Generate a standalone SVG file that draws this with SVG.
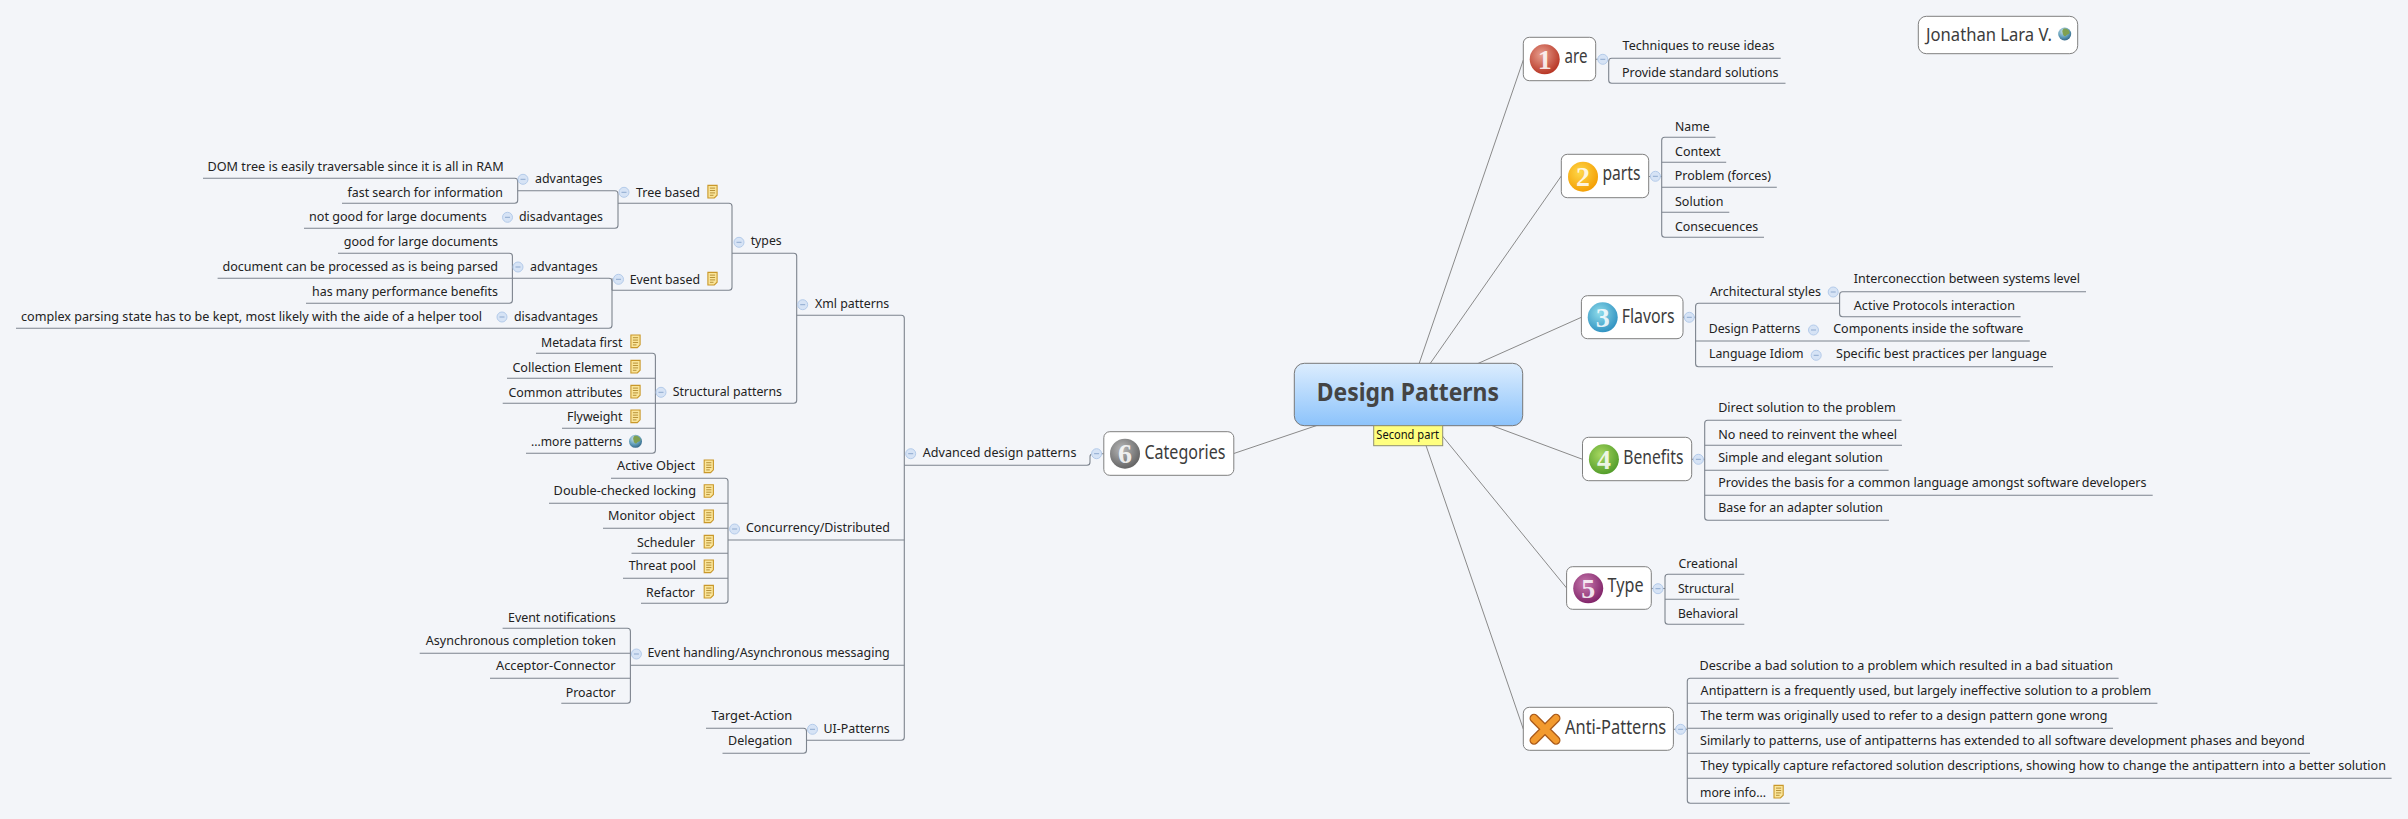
<svg xmlns="http://www.w3.org/2000/svg" width="2408" height="819" viewBox="0 0 2408 819">
<style>
text{font-family:"Noto Sans","Open Sans","Liberation Sans",sans-serif;font-size:13.4px;fill:#222}
.n{font-size:19.5px;fill:#3c3c3c}
.d{font-size:15px;font-weight:bold;fill:#fff;font-family:"Liberation Serif",serif;text-anchor:middle;fill-opacity:.85}
.box{fill:#fff;stroke:#7f7f7f;stroke-width:1}
.l{fill:none;stroke:#7d848e;stroke-width:1.1}
.r{fill:none;stroke:#8a8a8a;stroke-width:1}
</style>
<defs>
<linearGradient id="cg" x1="0" y1="0" x2="0" y2="1"><stop offset="0" stop-color="#dcedfe"/><stop offset="1" stop-color="#8cc3fb"/></linearGradient>
<radialGradient id="i1" cx=".4" cy=".35" r=".7"><stop offset="0" stop-color="#e8a090"/><stop offset="1" stop-color="#b5301f"/></radialGradient>
<radialGradient id="i2" cx=".4" cy=".35" r=".7"><stop offset="0" stop-color="#ffd84a"/><stop offset="1" stop-color="#f39c00"/></radialGradient>
<radialGradient id="i3" cx=".4" cy=".35" r=".7"><stop offset="0" stop-color="#8fdcea"/><stop offset="1" stop-color="#2c8fc0"/></radialGradient>
<radialGradient id="i4" cx=".4" cy=".35" r=".7"><stop offset="0" stop-color="#a8d860"/><stop offset="1" stop-color="#4f9a28"/></radialGradient>
<radialGradient id="i5" cx=".4" cy=".35" r=".7"><stop offset="0" stop-color="#c77aae"/><stop offset="1" stop-color="#7d1f65"/></radialGradient>
<radialGradient id="i6" cx=".4" cy=".35" r=".7"><stop offset="0" stop-color="#b8b8b8"/><stop offset="1" stop-color="#5f5f5f"/></radialGradient>
<radialGradient id="gl" cx=".4" cy=".3" r=".75"><stop offset="0" stop-color="#cfe6ee"/><stop offset=".6" stop-color="#5f9cb8"/><stop offset="1" stop-color="#2d5f80"/></radialGradient>
<g id="c"><circle r="5" fill="#d6e3f5" stroke="#b4cbea" stroke-width="1"/><path d="M-2.5 0H2.5" stroke="#8ea9cf" stroke-width="1"/></g>
<g id="note"><path d="M-4.6-6.3H4.6V3.5L1.8 6.3H-4.6Z" fill="#fae59a" stroke="#c9982a" stroke-width="1.1"/><path d="M-2.6-3.6H2.6M-2.6-1.2H2.6M-2.6 1.2H2.6M-2.6 3.6H1" stroke="#a87e20" stroke-width=".8" fill="none"/></g>
<g id="globe"><circle r="6.5" fill="url(#gl)"/><path d="M-1-5.5C2-6 5-4 5-1 4 1 2 0 1 2 0 3-2 1-2-1-3-3-2-4-1-5.5Z" fill="#7fa050"/></g>
</defs>
<rect width="2408" height="819" fill="#f3f5f9"/>
<g id="connectors">
<g class="r">
<path d="M1408.5 394.5L1523.3 60"/>
<path d="M1408.5 394.5L1561.3 176"/>
<path d="M1408.5 394.5L1581.4 317.3"/>
<path d="M1408.5 394.5L1582.5 459.3"/>
<path d="M1408.5 394.5L1566.6 588"/>
<path d="M1408.5 394.5L1523.3 729"/>
<path d="M1408.5 394.5L1233.8 453.5"/>
</g>
<g class="l">
<path d="M203 178.3H514.7Q517.7 178.3 517.7 181.3V200.3Q517.7 203.3 514.7 203.3H342"/>
<path d="M517.7 190.7H615Q618 190.7 618 193.7V225.3Q618 228.3 615 228.3H304"/>
<path d="M618 203.3H729Q732 203.3 732 206.3V287.3Q732 290.3 729 290.3H612"/>
<path d="M338 253.3H509.4Q512.4 253.3 512.4 256.3V300.3Q512.4 303.3 509.4 303.3H306"/>
<path d="M217.6 278.3H609Q612 278.3 612 281.3V325.3Q612 328.3 609 328.3H16"/>
<path d="M612 278.3V290.3"/>
<path d="M732 253.3H793.7Q796.7 253.3 796.7 256.3V400.3Q796.7 403.3 793.7 403.3H502.7"/>
<path d="M536 353.3H652.4Q655.4 353.3 655.4 356.3V450.3Q655.4 453.3 652.4 453.3H526"/>
<path d="M507 378.3H655.4M562 428.3H655.4"/>
<path d="M796.7 315.3H901.3Q904.3 315.3 904.3 318.3V737.3Q904.3 740.3 901.3 740.3H806.5"/>
<path d="M611 478.3H725Q728 478.3 728 481.3V600.3Q728 603.3 725 603.3H641"/>
<path d="M549 503.3H728M603 528.3H728M631.5 553.3H728M623 578.3H728"/>
<path d="M728 540H904.3"/>
<path d="M502.6 628.3H627.4Q630.4 628.3 630.4 631.3V700.3Q630.4 703.3 627.4 703.3H561.3"/>
<path d="M419.7 653.3H630.4M490 678.3H630.4"/>
<path d="M630.4 665.3H904.3"/>
<path d="M706 728.3H803.5Q806.5 728.3 806.5 731.3V750.3Q806.5 753.3 803.5 753.3H722.5"/>
<path d="M904.3 465.3H1087Q1090 465.3 1090 462.3V456.7Q1090 453.7 1093 453.7H1103.8"/>
<path d="M1595.7 59.3H1606M1780.7 58.3H1611.7Q1608.7 58.3 1608.7 61.3V80.3Q1608.7 83.3 1611.7 83.3H1785.5"/>
<path d="M1648.7 176.5H1661.7M1715.5 137.3H1664.7Q1661.7 137.3 1661.7 140.3V234.3Q1661.7 237.3 1664.7 237.3H1764"/>
<path d="M1661.7 162.3H1726.2M1661.7 187.3H1776.8M1661.7 212.3H1729.3"/>
<path d="M1683 317.3H1695.6M1839.2 303.3H1698.6Q1695.6 303.3 1695.6 306.3V363.7Q1695.6 366.7 1698.6 366.7H2053"/>
<path d="M1695.6 341H2029.8"/>
<path d="M2086 291.7H1842.6Q1839.6 291.7 1839.6 294.7V313.7Q1839.6 316.7 1842.6 316.7H2020.6"/>
<path d="M1691.7 459.3H1704.7M1901.6 420.3H1707.7Q1704.7 420.3 1704.7 423.3V517.3Q1704.7 520.3 1707.7 520.3H1889"/>
<path d="M1704.7 445.3H1902M1704.7 470.3H1888.6M1704.7 495.3H2152.7"/>
<path d="M1651.3 588.5H1665M1744.3 574.3H1668Q1665 574.3 1665 577.3V621.3Q1665 624.3 1668 624.3H1744.3"/>
<path d="M1665 599.3H1739.3"/>
<path d="M1673.4 729.3H1687.3M2118.6 678.3H1690.3Q1687.3 678.3 1687.3 681.3V800.3Q1687.3 803.3 1690.3 803.3H1789.7"/>
<path d="M1687.3 703.3H2157.4M1687.3 728.3H2113M1687.3 753.3H2310M1687.3 778.3H2391.6"/>
</g>
</g>
<g id="central"><rect x="1294.3" y="363.3" width="228.4" height="62.4" rx="10" fill="url(#cg)" stroke="#777"/><text x="1316.7" y="401" textLength="182.3" lengthAdjust="spacingAndGlyphs" style="font-size:25.5px;font-weight:bold;fill:#444">Design Patterns</text></g>
<g id="central-label"><rect x="1373.7" y="425.7" width="69" height="20" fill="#ffff80" stroke="#8f8f70"/><text x="1376.3" y="439" textLength="62.7" lengthAdjust="spacingAndGlyphs" style="font-size:12.8px;fill:#111">Second part</text></g>
<g id="author"><rect class="box" x="1918.3" y="16.3" width="159.4" height="37.4" rx="8"/><text class="n" x="1926" y="41" textLength="126" lengthAdjust="spacingAndGlyphs" style="font-size:18px">Jonathan Lara V.</text><use href="#globe" x="2064.7" y="34"/></g>
<g id="are"><rect class="box" x="1523.3" y="37.3" width="72.4" height="43.4" rx="6"/><circle cx="1544.7" cy="59.3" r="15" fill="url(#i1)"/><text class="d" x="1544.7" y="68.5" style="font-size:28px">1</text><text class="n" x="1564.5" y="63.3" textLength="22.9" lengthAdjust="spacingAndGlyphs">are</text><use href="#c" x="1602.8" y="59.3"/></g>
<g id="parts"><rect class="box" x="1561.3" y="154.3" width="87.4" height="43.4" rx="6"/><circle cx="1583" cy="176.7" r="15" fill="url(#i2)"/><text class="d" x="1583" y="185.9" style="font-size:28px">2</text><text class="n" x="1602.4" y="180" textLength="38" lengthAdjust="spacingAndGlyphs">parts</text><use href="#c" x="1655.4" y="176.3"/></g>
<g id="flavors"><rect class="box" x="1581.4" y="295.7" width="101.6" height="43" rx="6"/><circle cx="1602.7" cy="317.3" r="15" fill="url(#i3)"/><text class="d" x="1602.7" y="326.5" style="font-size:28px">3</text><text class="n" x="1621.7" y="323.3" textLength="53" lengthAdjust="spacingAndGlyphs">Flavors</text><use href="#c" x="1689.3" y="317.3"/></g>
<g id="benefits"><rect class="box" x="1582.5" y="437.3" width="109.2" height="43.4" rx="6"/><circle cx="1603.9" cy="459.3" r="15" fill="url(#i4)"/><text class="d" x="1603.9" y="468.5" style="font-size:28px">4</text><text class="n" x="1623.3" y="464.3" textLength="60.1" lengthAdjust="spacingAndGlyphs">Benefits</text><use href="#c" x="1698.4" y="459.3"/></g>
<g id="type"><rect class="box" x="1566.6" y="566.7" width="84.7" height="42.6" rx="6"/><circle cx="1588.2" cy="588.3" r="15" fill="url(#i5)"/><text class="d" x="1588.2" y="597.5" style="font-size:28px">5</text><text class="n" x="1607.6" y="591.7" textLength="35.9" lengthAdjust="spacingAndGlyphs">Type</text><use href="#c" x="1658" y="588.7"/></g>
<g id="anti-patterns"><rect class="box" x="1523.3" y="707.3" width="150.1" height="43" rx="6"/><path d="M1534 718.3L1556 740.3M1556 718.3L1534 740.3" stroke="#a8591a" stroke-width="9" stroke-linecap="round" fill="none"/><path d="M1534 718.3L1556 740.3M1556 718.3L1534 740.3" stroke="#f29a2e" stroke-width="6.5" stroke-linecap="round" fill="none"/><text class="n" x="1565" y="734.3" textLength="101.2" lengthAdjust="spacingAndGlyphs">Anti-Patterns</text><use href="#c" x="1680.6" y="729.3"/></g>
<g id="categories"><rect class="box" x="1103.8" y="431.7" width="130" height="43.6" rx="6"/><circle cx="1125" cy="453.7" r="15" fill="url(#i6)"/><text class="d" x="1125" y="462.9" style="font-size:28px">6</text><text class="n" x="1144.4" y="459.3" textLength="81.1" lengthAdjust="spacingAndGlyphs">Categories</text><use href="#c" x="1096.6" y="453.7"/></g>

<g id="are-items">
<text x="1622.6" y="50" textLength="151.8" lengthAdjust="spacingAndGlyphs">Techniques to reuse ideas</text>
<text x="1622" y="76.7" textLength="156.4" lengthAdjust="spacingAndGlyphs">Provide standard solutions</text>
</g>
<g id="parts-items">
<text x="1675" y="130.7" textLength="34.6" lengthAdjust="spacingAndGlyphs">Name</text>
<text x="1675" y="155.7" textLength="45.6" lengthAdjust="spacingAndGlyphs">Context</text>
<text x="1674.8" y="180" textLength="96.2" lengthAdjust="spacingAndGlyphs">Problem (forces)</text>
<text x="1675" y="205.7" textLength="48.4" lengthAdjust="spacingAndGlyphs">Solution</text>
<text x="1675" y="230.7" textLength="83.2" lengthAdjust="spacingAndGlyphs">Consecuences</text>
</g>
<g id="flavors-items">
<text x="1709.9" y="295.7" textLength="111.1" lengthAdjust="spacingAndGlyphs">Architectural styles</text><use href="#c" x="1833.2" y="292"/>
<text x="1853.8" y="283.3" textLength="226.2" lengthAdjust="spacingAndGlyphs">Interconecction between systems level</text>
<text x="1853.8" y="310" textLength="161.2" lengthAdjust="spacingAndGlyphs">Active Protocols interaction</text>
<text x="1708.7" y="333.3" textLength="91.7" lengthAdjust="spacingAndGlyphs">Design Patterns</text><use href="#c" x="1813.5" y="330"/>
<text x="1833.2" y="333.3" textLength="190.2" lengthAdjust="spacingAndGlyphs">Components inside the software</text>
<text x="1709" y="358.3" textLength="94.6" lengthAdjust="spacingAndGlyphs">Language Idiom</text><use href="#c" x="1816.2" y="355.3"/>
<text x="1836" y="358.3" textLength="210.8" lengthAdjust="spacingAndGlyphs">Specific best practices per language</text>
</g>
<g id="benefits-items">
<text x="1718.2" y="412.3" textLength="177.5" lengthAdjust="spacingAndGlyphs">Direct solution to the problem</text>
<text x="1718.2" y="439" textLength="178.8" lengthAdjust="spacingAndGlyphs">No need to reinvent the wheel</text>
<text x="1718.2" y="462.3" textLength="164.5" lengthAdjust="spacingAndGlyphs">Simple and elegant solution</text>
<text x="1718.2" y="487.3" textLength="428.2" lengthAdjust="spacingAndGlyphs">Provides the basis for a common language amongst software developers</text>
<text x="1718.2" y="512.3" textLength="164.8" lengthAdjust="spacingAndGlyphs">Base for an adapter solution</text>
</g>
<g id="type-items">
<text x="1678.4" y="567.7" textLength="59.3" lengthAdjust="spacingAndGlyphs">Creational</text>
<text x="1677.9" y="592.7" textLength="55.9" lengthAdjust="spacingAndGlyphs">Structural</text>
<text x="1677.9" y="617.7" textLength="60.3" lengthAdjust="spacingAndGlyphs">Behavioral</text>
</g>
<g id="anti-items">
<text x="1699.5" y="670.3" textLength="413.5" lengthAdjust="spacingAndGlyphs">Describe a bad solution to a problem which resulted in a bad situation</text>
<text x="1700.6" y="695.3" textLength="450.7" lengthAdjust="spacingAndGlyphs">Antipattern is a frequently used, but largely ineffective solution to a problem</text>
<text x="1700.6" y="720.3" textLength="407" lengthAdjust="spacingAndGlyphs">The term was originally used to refer to a design pattern gone wrong</text>
<text x="1700" y="745.3" textLength="604.7" lengthAdjust="spacingAndGlyphs">Similarly to patterns, use of antipatterns has extended to all software development phases and beyond</text>
<text x="1700.6" y="770.3" textLength="685.4" lengthAdjust="spacingAndGlyphs">They typically capture refactored solution descriptions, showing how to change the antipattern into a better solution</text>
<text x="1700" y="796.7" textLength="66" lengthAdjust="spacingAndGlyphs">more info...</text><use href="#note" x="1778.6" y="791.7"/>
</g>
<g id="advanced">
<text x="922.8" y="457.3" textLength="153.6" lengthAdjust="spacingAndGlyphs">Advanced design patterns</text><use href="#c" x="910.7" y="453.7"/>
<text x="815" y="307.7" textLength="74.3" lengthAdjust="spacingAndGlyphs">Xml patterns</text><use href="#c" x="802.7" y="304.7"/>
<text x="750.7" y="245" textLength="31" lengthAdjust="spacingAndGlyphs">types</text><use href="#c" x="739" y="242.3"/>
<text x="636" y="196.7" textLength="64" lengthAdjust="spacingAndGlyphs">Tree based</text><use href="#c" x="624" y="192.3"/><use href="#note" x="712.5" y="191.7"/>
<text x="535" y="182.7" textLength="67.5" lengthAdjust="spacingAndGlyphs">advantages</text><use href="#c" x="523" y="179.3"/>
<text x="207.5" y="170.7" textLength="296.1" lengthAdjust="spacingAndGlyphs">DOM tree is easily traversable since it is all in RAM</text>
<text x="347.5" y="197.3" textLength="155.5" lengthAdjust="spacingAndGlyphs">fast search for information</text>
<text x="519" y="220.7" textLength="84" lengthAdjust="spacingAndGlyphs">disadvantages</text><use href="#c" x="507.5" y="217.3"/>
<text x="309" y="220.7" textLength="177.7" lengthAdjust="spacingAndGlyphs">not good for large documents</text>
<text x="629.7" y="283.7" textLength="70.3" lengthAdjust="spacingAndGlyphs">Event based</text><use href="#c" x="618.5" y="279.3"/><use href="#note" x="712.5" y="278.7"/>
<text x="530" y="270.7" textLength="67.7" lengthAdjust="spacingAndGlyphs">advantages</text><use href="#c" x="518" y="267"/>
<text x="343.7" y="245.7" textLength="154.3" lengthAdjust="spacingAndGlyphs">good for large documents</text>
<text x="222.5" y="270.7" textLength="275.5" lengthAdjust="spacingAndGlyphs">document can be processed as is being parsed</text>
<text x="312" y="295.7" textLength="186" lengthAdjust="spacingAndGlyphs">has many performance benefits</text>
<text x="514" y="320.7" textLength="84" lengthAdjust="spacingAndGlyphs">disadvantages</text><use href="#c" x="502" y="317"/>
<text x="21" y="320.7" textLength="461" lengthAdjust="spacingAndGlyphs">complex parsing state has to be kept, most likely with the aide of a helper tool</text>
<text x="672.8" y="396" textLength="109.2" lengthAdjust="spacingAndGlyphs">Structural patterns</text><use href="#c" x="661" y="392.3"/>
<text x="541" y="347" textLength="81.4" lengthAdjust="spacingAndGlyphs">Metadata first</text><use href="#note" x="635.5" y="341.3"/>
<text x="512.4" y="372" textLength="110" lengthAdjust="spacingAndGlyphs">Collection Element</text><use href="#note" x="635.5" y="366.7"/>
<text x="508.5" y="397" textLength="113.9" lengthAdjust="spacingAndGlyphs">Common attributes</text><use href="#note" x="635.5" y="391.7"/>
<text x="567" y="421" textLength="55.4" lengthAdjust="spacingAndGlyphs">Flyweight</text><use href="#note" x="635.5" y="416.3"/>
<text x="531" y="445.7" textLength="91.4" lengthAdjust="spacingAndGlyphs">...more patterns</text><use href="#globe" x="635.5" y="441.3"/>
<text x="746" y="532.3" textLength="143.8" lengthAdjust="spacingAndGlyphs">Concurrency/Distributed</text><use href="#c" x="734.6" y="529"/>
<text x="617" y="470.3" textLength="78" lengthAdjust="spacingAndGlyphs">Active Object</text><use href="#note" x="708.8" y="466.3"/>
<text x="553.6" y="495.3" textLength="142.4" lengthAdjust="spacingAndGlyphs">Double-checked locking</text><use href="#note" x="708.8" y="491"/>
<text x="608" y="520.3" textLength="87" lengthAdjust="spacingAndGlyphs">Monitor object</text><use href="#note" x="708.8" y="516.3"/>
<text x="637" y="546.7" textLength="58" lengthAdjust="spacingAndGlyphs">Scheduler</text><use href="#note" x="708.8" y="541.7"/>
<text x="628.7" y="570.3" textLength="67.3" lengthAdjust="spacingAndGlyphs">Threat pool</text><use href="#note" x="708.8" y="566.3"/>
<text x="646" y="596.7" textLength="49" lengthAdjust="spacingAndGlyphs">Refactor</text><use href="#note" x="708.8" y="591.7"/>
<text x="647.4" y="657.3" textLength="242.4" lengthAdjust="spacingAndGlyphs">Event handling/Asynchronous messaging</text><use href="#c" x="636.4" y="654"/>
<text x="508" y="621.7" textLength="107.6" lengthAdjust="spacingAndGlyphs">Event notifications</text>
<text x="425.8" y="645.3" textLength="190.2" lengthAdjust="spacingAndGlyphs">Asynchronous completion token</text>
<text x="496" y="670.3" textLength="119.6" lengthAdjust="spacingAndGlyphs">Acceptor-Connector</text>
<text x="565.7" y="696.7" textLength="49.9" lengthAdjust="spacingAndGlyphs">Proactor</text>
<text x="823.5" y="733.3" textLength="66.3" lengthAdjust="spacingAndGlyphs">UI-Patterns</text><use href="#c" x="812.5" y="729.3"/>
<text x="711.6" y="720.3" textLength="80.6" lengthAdjust="spacingAndGlyphs">Target-Action</text>
<text x="728" y="745.3" textLength="64.2" lengthAdjust="spacingAndGlyphs">Delegation</text>
</g>
</svg>
